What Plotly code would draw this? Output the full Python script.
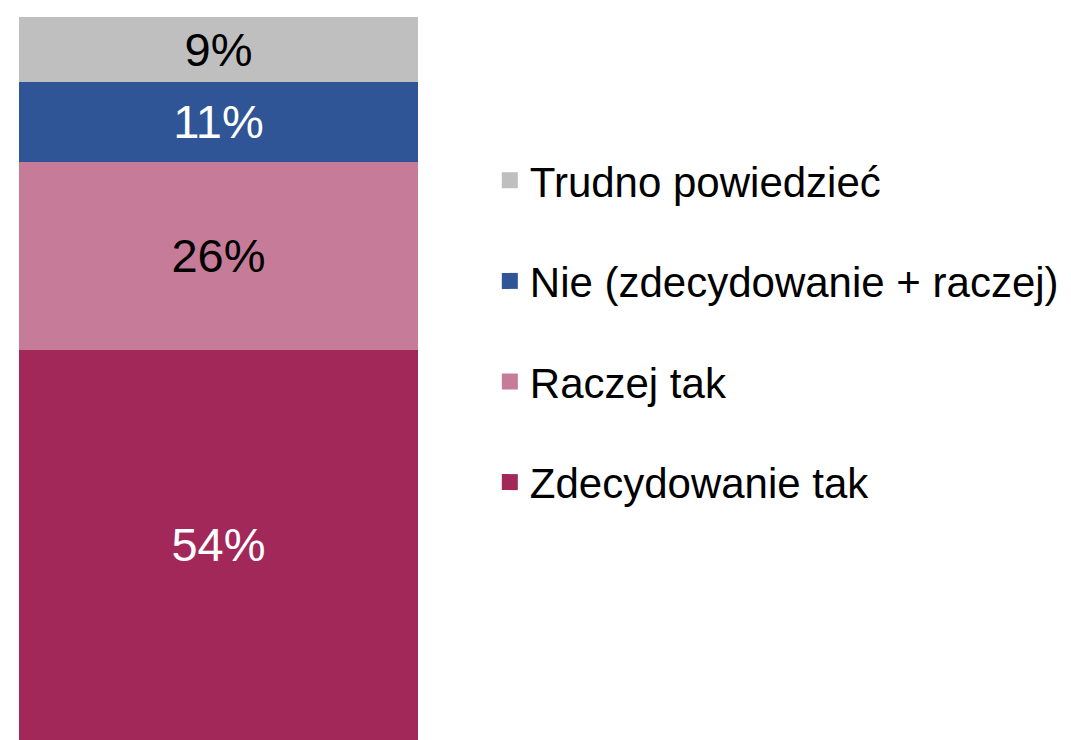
import plotly.graph_objects as go

categories = ["Zdecydowanie tak", "Raczej tak", "Nie (zdecydowanie + raczej)", "Trudno powiedzieć"]
values = [54, 26, 11, 9]
colors = ["#A2285A", "#C67B99", "#2F5597", "#BFBFBF"]
label_colors = ["white", "black", "white", "black"]
bar_x = [""]

FONT = "Arial, Liberation Sans, sans-serif"

fig = go.Figure()
n = len(categories)
for i, (cat, val, col, lc) in enumerate(zip(categories, values, colors, label_colors)):
    fig.add_trace(go.Bar(
        x=bar_x, y=[val], name=cat,
        marker=dict(color=col, line=dict(width=0)),
        text=[f"{val}%"], textposition="inside", insidetextanchor="middle",
        textfont=dict(family=FONT, size=47, color=lc),
        width=1, showlegend=False, hoverinfo="skip",
    ))
    # legend entry with a square symbol
    fig.add_trace(go.Scatter(
        x=[None], y=[None], mode="markers", name=cat,
        marker=dict(symbol="square", size=22, color=col),
        legendgroup=f"g{i}", legendrank=n - i, showlegend=True,
    ))

# page body has an 8px margin; size the figure so the visible area matches
fig.update_layout(
    barmode="stack",
    width=1063, height=732,
    margin=dict(l=11, r=653, t=9, b=0),
    paper_bgcolor="white", plot_bgcolor="white",
    xaxis=dict(visible=False, range=[-0.5, 0.5], fixedrange=True),
    yaxis=dict(visible=False, range=[0, 100], fixedrange=True),
    showlegend=True,
    legend=dict(
        x=1.18, xanchor="left",
        y=0.565, yanchor="middle",
        traceorder="grouped",
        tracegroupgap=43,
        itemsizing="trace",
        font=dict(family=FONT, size=42, color="black"),
        bgcolor="rgba(0,0,0,0)",
    ),
    font=dict(family=FONT),
)

fig.write_html("out.html")
